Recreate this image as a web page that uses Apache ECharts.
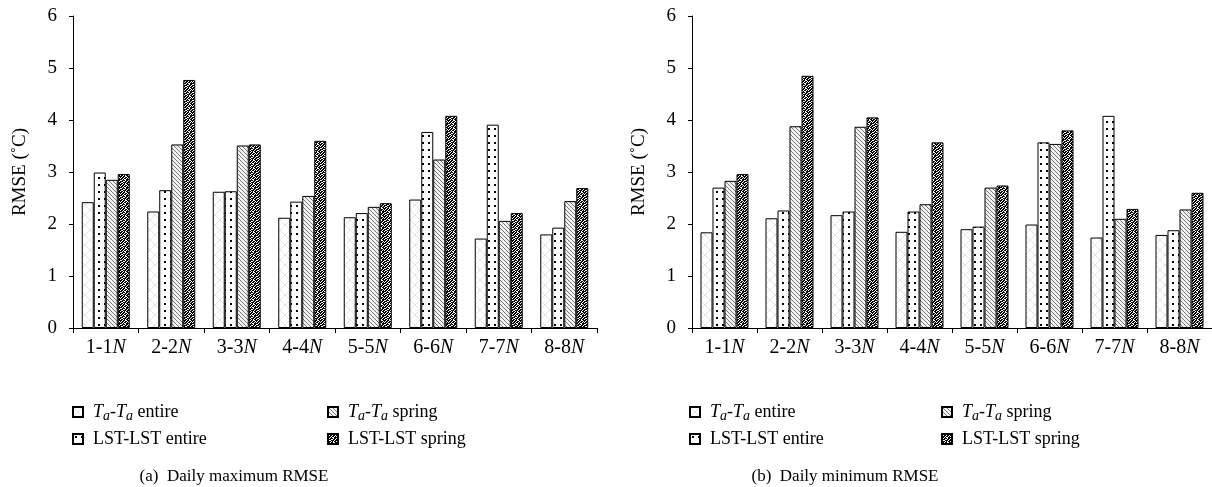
<!DOCTYPE html>
<html><head><meta charset="utf-8">
<script src="https://cdn.jsdelivr.net/npm/echarts@6/dist/echarts.min.js"></script>
<style>html,body{margin:0;padding:0;background:#fff}#c{width:1212px;height:487px}</style>
</head><body><div id="c"></div>
<script>
const categories = ['1-1N','2-2N','3-3N','4-4N','5-5N','6-6N','7-7N','8-8N'];
const seriesNames = ['Ta-Ta entire','LST-LST entire','Ta-Ta spring','LST-LST spring'];
const maxTaEntire  = [2.42,2.24,2.62,2.12,2.13,2.47,1.72,1.80];
const maxLstEntire = [2.99,2.65,2.63,2.43,2.21,3.77,3.91,1.93];
const maxTaSpring  = [2.85,3.53,3.51,2.54,2.33,3.24,2.06,2.44];
const maxLstSpring = [2.96,4.77,3.53,3.60,2.40,4.08,2.21,2.69];
const minTaEntire  = [1.84,2.11,2.17,1.85,1.90,1.99,1.74,1.79];
const minLstEntire = [2.70,2.26,2.24,2.24,1.95,3.57,4.08,1.88];
const minTaSpring  = [2.83,3.88,3.87,2.38,2.70,3.54,2.10,2.28];
const minLstSpring = [2.96,4.85,4.05,3.57,2.74,3.80,2.29,2.60];
const yMin = 0, yMax = 6, yStep = 1;
const yName = 'RMSE (˚C)';
const captions = ['(a)  Daily maximum RMSE','(b)  Daily minimum RMSE'];

const FONT = 'Liberation Serif';

function mk(w, h, draw) {
  const c = document.createElement('canvas');
  c.width = w; c.height = h;
  const g = c.getContext('2d');
  draw(g, w, h);
  return { image: c, repeat: 'repeat' };
}
const patTaEntire = mk(10, 10, (g, w, h) => {
  g.fillStyle = '#fff'; g.fillRect(0, 0, w, h);
  g.strokeStyle = '#d8d8d8'; g.lineWidth = 0.7;
  g.beginPath(); g.moveTo(0, 0); g.lineTo(w, h); g.moveTo(w, 0); g.lineTo(0, h); g.stroke();
});
const patLstEntire = mk(6, 7, (g, w, h) => {
  g.fillStyle = '#fff'; g.fillRect(0, 0, w, h);
  g.fillStyle = '#000'; g.fillRect(2, 2, 2, 2);
});
const patTaSpring = mk(4, 4, (g, w, h) => {
  g.fillStyle = '#f2f2f2'; g.fillRect(0, 0, w, h);
  g.fillStyle = '#7a7a7a';
  for (let i = 0; i < 4; i++) g.fillRect(i, i, 1, 1);
});
const bits = ['11011001','10110110','01101101','11010011','00111011','11100110','10011101','01101011'];
const patLstSpring = mk(8, 8, (g, w, h) => {
  g.fillStyle = '#fff'; g.fillRect(0, 0, w, h);
  g.fillStyle = '#000';
  bits.forEach((r, y) => { for (let x = 0; x < 8; x++) if (r[x] === '1') g.fillRect(x, y, 1, 1); });
});
const pats = [patTaEntire, patLstEntire, patTaSpring, patLstSpring];

const grids = [
  { left: 73, top: 16, width: 524, height: 312 },
  { left: 692, top: 16, width: 523, height: 312 }
];
const dataSets = [
  [maxTaEntire, maxLstEntire, maxTaSpring, maxLstSpring],
  [minTaEntire, minLstEntire, minTaSpring, minLstSpring]
];

const xAxes = grids.map((g, i) => ({
  type: 'category', gridIndex: i, data: categories,
  axisLine: { lineStyle: { color: '#000', width: 1 } },
  axisTick: { show: true, length: 5, lineStyle: { color: '#000' } },
  axisLabel: {
    interval: 0, margin: 10, color: '#000',
    formatter: v => '{n|' + v.slice(0, -1) + '}{i|' + v.slice(-1) + '}',
    rich: {
      n: { fontFamily: FONT, fontSize: 20, color: '#000' },
      i: { fontFamily: FONT, fontSize: 20, fontStyle: 'italic', color: '#000' }
    }
  }
}));
const yAxes = grids.map((g, i) => ({
  type: 'value', gridIndex: i, min: yMin, max: yMax, interval: yStep,
  name: yName, nameLocation: 'middle', nameGap: 43, nameRotate: 90,
  nameTextStyle: { fontFamily: FONT, fontSize: 19, color: '#000' },
  axisLine: { show: true, lineStyle: { color: '#000', width: 1 } },
  axisTick: { show: true, length: 4, lineStyle: { color: '#000' } },
  splitLine: { show: false },
  axisLabel: { margin: 16, fontFamily: FONT, fontSize: 19, color: '#000' }
}));

const series = [];
dataSets.forEach((set, gi) => {
  set.forEach((vals, si) => {
    series.push({
      type: 'bar', name: seriesNames[si], xAxisIndex: gi, yAxisIndex: gi,
      data: vals, barWidth: 12, barGap: '0%',
      itemStyle: { color: pats[si], borderColor: '#000', borderWidth: 1 },
      emphasis: { disabled: true }
    });
  });
});

const legendRich = {
  t: { fontFamily: FONT, fontSize: 18, color: '#000', fontStyle: 'italic' },
  s: { fontFamily: FONT, fontSize: 14, color: '#000', fontStyle: 'italic', padding: [8, 0, 0, 0] },
  n: { fontFamily: FONT, fontSize: 18, color: '#000' }
};
function legendFmt(name) {
  if (name.startsWith('Ta-Ta')) {
    return '{t|T}{s|a}{n|-}{t|T}{s|a}{n| ' + name.split(' ')[1] + '}';
  }
  return '{n|' + name + '}';
}
function legend(left, names) {
  return {
    left: left, top: 397, orient: 'vertical', itemWidth: 10, itemHeight: 10, itemGap: 6,
    icon: 'rect',
    data: names, formatter: legendFmt, selectedMode: false,
    textStyle: { fontFamily: FONT, fontSize: 18, color: '#000', rich: legendRich, padding: [0, 0, 0, 5], lineHeight: 20 }
  };
}

const option = {
  animation: false,
  backgroundColor: '#fff',
  grid: grids,
  xAxis: xAxes,
  yAxis: yAxes,
  legend: [
    legend(67, [seriesNames[0], seriesNames[1]]),
    legend(322, [seriesNames[2], seriesNames[3]]),
    legend(684, [seriesNames[0], seriesNames[1]]),
    legend(936, [seriesNames[2], seriesNames[3]])
  ],
  graphic: [
    { type: 'text', x: 234, y: 477, style: { text: captions[0], fontFamily: FONT, fontSize: 17, fill: '#000', align: 'center', verticalAlign: 'middle' } },
    { type: 'text', x: 845, y: 477, style: { text: captions[1], fontFamily: FONT, fontSize: 17, fill: '#000', align: 'center', verticalAlign: 'middle' } }
  ],
  series: series
};
const chart = echarts.init(document.getElementById('c'), null, { renderer: 'canvas' });
chart.setOption(option);
</script></body></html>
